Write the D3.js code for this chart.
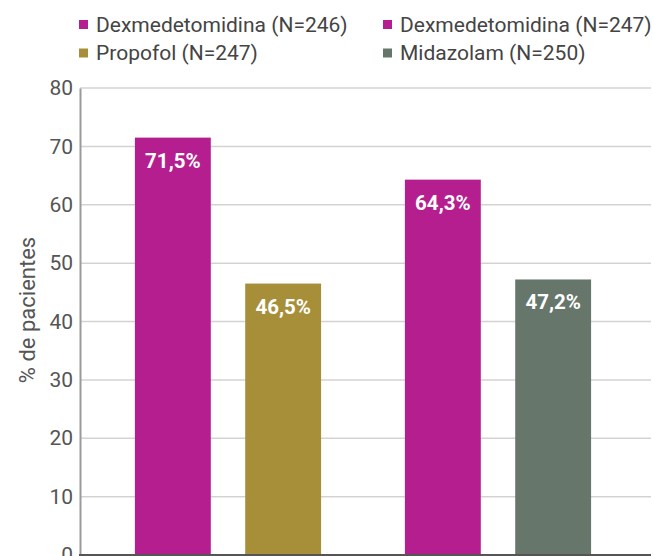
<!DOCTYPE html>
<html>
<head>
<meta charset="utf-8">
<script src="https://cdn.jsdelivr.net/npm/d3@7"></script>
<style>
  body { margin: 0; background: #fff; }
  svg { display: block; font-family: Roboto, "Liberation Sans", sans-serif; }
</style>
</head>
<body>
<div id="chart"></div>
<script>
// study groups (not labelled on the visible part of the chart)
const studies = ["A", "B"];
const arms = ["Dexmedetomidina (N=246)", "Propofol (N=247)", "Dexmedetomidina (N=247)", "Midazolam (N=250)"];
const armStudy = ["A", "A", "B", "B"];
const values = [71.5, 46.5, 64.3, 47.2];
const valueLabels = ["71,5%", "46,5%", "64,3%", "47,2%"];
const armColors = ["#b51e8e", "#a78f3a", "#b51e8e", "#66766b"];
const yTicks = [0, 10, 20, 30, 40, 50, 60, 70, 80];
const yTitle = "% de pacientes";

const W = 653, H = 556;
const plot = { left: 80, right: 651, top: 88, bottom: 555 };

const svg = d3.select("#chart").append("svg")
  .attr("width", W)
  .attr("height", H);

const y = d3.scaleLinear().domain([0, 80]).range([plot.bottom, plot.top]);

const x0 = d3.scaleBand().domain(studies).range([93, 633]);
const x1 = d3.scaleBand().domain([0, 1])
  .range([0, x0.bandwidth()])
  .paddingInner(0.312)
  .paddingOuter(0.38);

// grid lines
svg.append("g")
  .selectAll("line")
  .data(yTicks.filter(d => d > 0))
  .join("line")
  .attr("x1", plot.left)
  .attr("x2", plot.right)
  .attr("y1", d => y(d))
  .attr("y2", d => y(d))
  .attr("stroke", "#d3d3d3")
  .attr("stroke-width", 1.5);

// y axis
const gy = svg.append("g")
  .attr("transform", `translate(${plot.left},0)`)
  .call(d3.axisLeft(y).tickValues(yTicks).tickSize(0).tickPadding(7));
gy.select(".domain").attr("stroke", "#9a9a9a").attr("stroke-width", 2);
gy.selectAll("text")
  .attr("fill", "#555")
  .style("font-size", "21px")
  .style("font-family", "Roboto, sans-serif");

svg.append("text")
  .attr("transform", `translate(35,310) rotate(-90)`)
  .attr("text-anchor", "middle")
  .attr("fill", "#555")
  .style("font-size", "22px")
  .text(yTitle);

// bars
const bars = arms.map((a, i) => ({
  arm: a, study: armStudy[i], value: values[i], label: valueLabels[i], color: armColors[i],
  slot: armStudy.slice(0, i).filter(s => s === armStudy[i]).length
}));

svg.append("g")
  .selectAll("rect")
  .data(bars)
  .join("rect")
  .attr("x", d => x0(d.study) + x1(d.slot))
  .attr("width", x1.bandwidth())
  .attr("y", d => y(d.value))
  .attr("height", d => y(0) - y(d.value))
  .attr("fill", d => d.color);

svg.append("g")
  .selectAll("text")
  .data(bars)
  .join("text")
  .attr("x", d => x0(d.study) + x1(d.slot) + x1.bandwidth() / 2)
  .attr("y", d => y(d.value) + 30)
  .attr("text-anchor", "middle")
  .attr("fill", "#fff")
  .style("font-size", "20.5px")
  .style("font-weight", "bold")
  .text(d => d.label);

// x axis line
svg.append("line")
  .attr("x1", plot.left - 1)
  .attr("x2", plot.right)
  .attr("y1", y(0))
  .attr("y2", y(0))
  .attr("stroke", "#555")
  .attr("stroke-width", 2);

// legend: columns follow the studies, rows follow the arms inside each study
const legend = svg.append("g")
  .selectAll("g")
  .data(bars)
  .join("g")
  .attr("transform", d => `translate(${d.study === "A" ? 79 : 383},${20 + d.slot * 28.5})`);

legend.append("rect")
  .attr("width", 9)
  .attr("height", 9)
  .attr("fill", d => d.color);

legend.append("text")
  .attr("x", 17)
  .attr("y", 11.5)
  .attr("fill", "#444")
  .style("font-size", "21px")
  .text(d => d.arm);
</script>
</body>
</html>
